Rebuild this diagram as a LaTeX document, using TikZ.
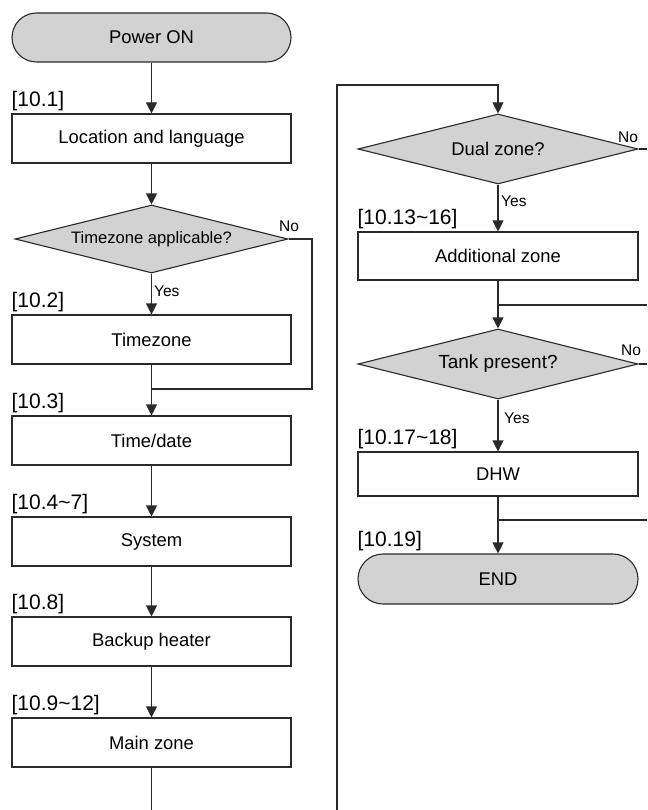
\documentclass[tikz,border=0pt]{standalone}
\usepackage{fontspec}
\setmainfont{Liberation Sans}
\usetikzlibrary{shapes.geometric,arrows.meta}
\definecolor{linec}{HTML}{2A2A2A}
\definecolor{termfill}{HTML}{D2D2D2}
\newcommand\fmain{\fontsize{18.4}{22}\selectfont}
\newcommand\fdec{\fontsize{16.6}{20}\selectfont}
\newcommand\ftank{\fontsize{19}{22}\selectfont}
\newcommand\fref{\fontsize{21}{24}\selectfont}
\newcommand\fyn{\fontsize{15.5}{18}\selectfont}
\begin{document}
\begin{tikzpicture}[x=1pt,y=-1pt,
  box/.style={draw=linec, fill=white, line width=1.1pt, minimum width=279pt, minimum height=49pt, inner sep=0pt, font=\fmain},
  term/.style={box, fill=termfill, rounded corners=24.5pt},
  dec/.style={diamond, draw=linec, fill=termfill, line width=1.1pt, aspect=4, inner sep=0pt, font=\fmain},
  arr/.style={-{Triangle[length=11pt,width=11pt]}, line width=1.1pt, draw=linec},
  ln/.style={line width=1.1pt, draw=linec},
  ref/.style={anchor=south west, inner sep=0pt, font=\fref, yshift=2pt},
  yn/.style={inner sep=0pt, font=\fyn}]
\useasboundingbox (0,0) rectangle (647,810);
% left column
\node[term] (pwr) at (151.5,37.5) {Power ON};
\node[box] (loc) at (151.5,138.5) {Location and language};
\node[dec, minimum width=273pt, minimum height=68pt, font=\fdec] (dtz) at (151.5,239) {Timezone applicable?};
\node[box] (tz) at (151.5,339.5) {Timezone};
\coordinate (j1) at (151.5,389);
\coordinate (c1) at (312,389);
\node[box] (td) at (151.5,440.5) {Time/date};
\node[box] (sys) at (151.5,541.5) {System};
\node[box] (bh) at (151.5,641.5) {Backup heater};
\node[box] (mz) at (151.5,742.5) {Main zone};
\coordinate (b1) at (151.5,810);
% right column
\coordinate (b2) at (337,810);
\coordinate (t2) at (337,85);
\coordinate (t3) at (498,85);
\node[dec, minimum width=280pt, minimum height=70pt] (dz) at (498,149) {Dual zone?};
\coordinate (dzno) at (647,149);
\node[box, minimum width=280pt, minimum height=48pt] (az) at (498,256) {Additional zone};
\coordinate (j2) at (498,305);
\coordinate (j2r) at (647,305);
\node[dec, minimum width=280pt, minimum height=70pt, font=\ftank] (tp) at (498,364) {Tank present?};
\coordinate (tpno) at (647,364);
\node[box, minimum width=280pt, minimum height=44pt] (dhw) at (498,474) {DHW};
\coordinate (j3) at (498,520);
\coordinate (j3r) at (647,520);
\node[term, minimum width=280pt, minimum height=50pt, rounded corners=25pt] (end) at (498,579) {END};
% reference labels
\node[ref] (r1) at (loc.north west) {[10.1]};
\node[ref] (r2) at (tz.north west) {[10.2]};
\node[ref] (r3) at (td.north west) {[10.3]};
\node[ref] (r4) at (sys.north west) {[10.4\char`\~7]};
\node[ref] (r5) at (bh.north west) {[10.8]};
\node[ref] (r6) at (mz.north west) {[10.9\char`\~12]};
\node[ref] (r7) at (az.north west) {[10.13\char`\~16]};
\node[ref] (r8) at (dhw.north west) {[10.17\char`\~18]};
\node[ref] (r9) at (end.north west) {[10.19]};
% yes / no
\node[yn, anchor=west] (y1) at (154,291) {Yes};
\node[yn] (n1) at (289,226) {No};
\node[yn, anchor=west] (y2) at (501,201) {Yes};
\node[yn] (n2) at (628,137) {No};
\node[yn, anchor=west] (y3) at (504,418) {Yes};
\node[yn] (n3) at (631,350) {No};
% connectors
\draw[arr] (pwr) -- (loc);
\draw[arr] (loc) -- (dtz);
\draw[arr] (dtz) -- (tz);
\draw[arr] (tz) -- (td);
\draw[ln] (dtz.east) -| (c1) -- (j1);
\draw[arr] (td) -- (sys);
\draw[arr] (sys) -- (bh);
\draw[arr] (bh) -- (mz);
\draw[ln] (mz) -- (b1);
\draw[arr] (b2) -- (t2) -- (t3) -- (dz);
\draw[ln] (dz.east) -- (dzno);
\draw[arr] (dz) -- (az);
\draw[arr] (az) -- (tp);
\draw[ln] (j2r) -- (j2);
\draw[ln] (tp.east) -- (tpno);
\draw[arr] (tp) -- (dhw);
\draw[arr] (dhw) -- (end);
\draw[ln] (j3r) -- (j3);
\end{tikzpicture}
\end{document}
